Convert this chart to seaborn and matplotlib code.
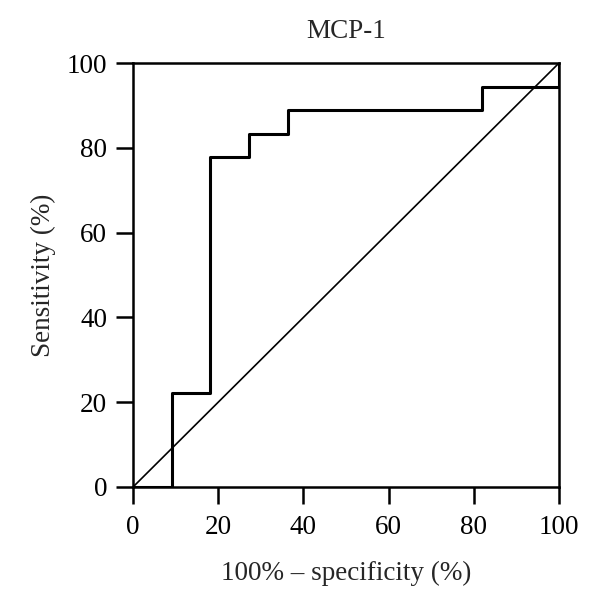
import numpy as np
import pandas as pd
import matplotlib
matplotlib.use('Agg')
import matplotlib.pyplot as plt
import seaborn as sns

# ROC vertices (percent): 11 controls, 18 cases
fpr = [0, 9.09, 9.09, 18.18, 18.18, 27.27, 27.27, 36.36, 36.36, 81.82, 81.82, 100, 100]
tpr = [0, 0, 22.2, 22.2, 77.8, 77.8, 83.3, 83.3, 88.9, 88.9, 94.4, 94.4, 100]
ref_line = [0, 100]
ticks = [0, 20, 40, 60, 80, 100]

sns.set_theme(style='ticks')
plt.rcParams['font.family'] = ['Liberation Serif', 'DejaVu Serif']

roc = pd.DataFrame({'fpr': fpr, 'tpr': tpr})

fig = plt.figure(figsize=(6, 6.07), dpi=100)
ax = fig.add_axes([0.2217, 0.1977, 0.71, 0.6985])

# diagonal reference
sns.lineplot(x=ref_line, y=ref_line, ax=ax, color='black', linewidth=1.2, sort=False)
# ROC curve
sns.lineplot(data=roc, x='fpr', y='tpr', ax=ax, color='black', linewidth=2.2,
             sort=False, estimator=None)

ax.set_xlim(0, 100)
ax.set_ylim(0, 100)
ax.set_xticks(ticks)
ax.set_yticks(ticks)
ax.tick_params(direction='out', length=12.5, width=1.8, labelsize=19.5, color='black',
               labelcolor='black', pad=6)
ax.tick_params(axis='x', pad=8)
for s in ax.spines.values():
    s.set_linewidth(1.8)
    s.set_color('black')
    s.set_visible(True)

ax.set_title('MCP-1', fontsize=19.5, pad=18)
ax.set_xlabel('100% \u2013 specificity (%)', fontsize=19.5, labelpad=15)
ax.set_ylabel('Sensitivity (%)', fontsize=19.5, labelpad=8)

fig.savefig('out.png', dpi=100)
